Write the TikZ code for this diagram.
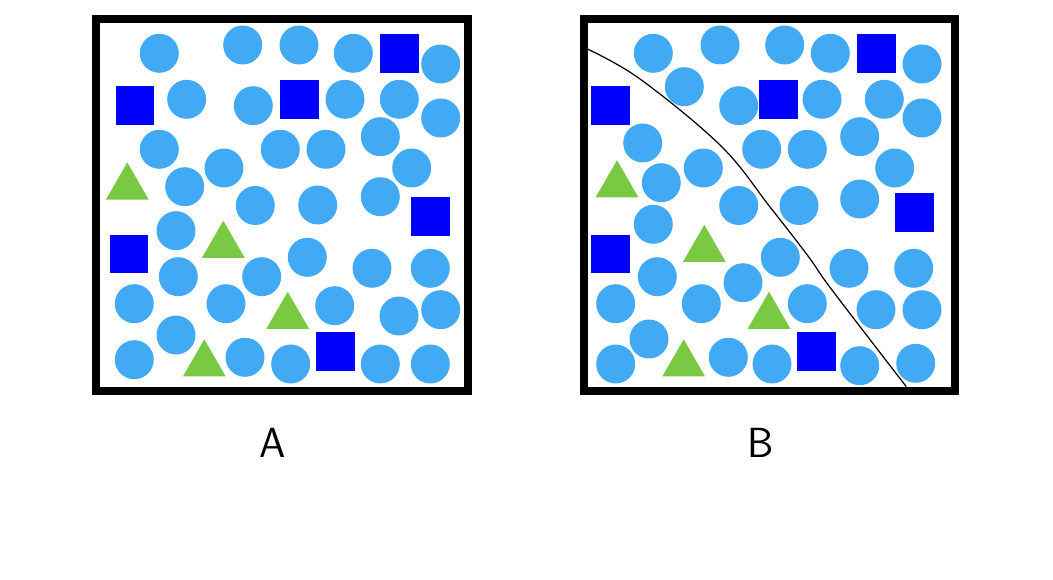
\documentclass[tikz,border=0pt]{standalone}
\usepackage{tikz}
\usetikzlibrary{shapes.geometric}
\definecolor{dotblue}{RGB}{66,169,244}
\definecolor{sqblue}{RGB}{0,0,255}
\definecolor{trigreen}{RGB}{122,201,67}

\begin{document}
\begin{tikzpicture}[x=0.02cm,y=-0.02cm,
  dot/.style={circle,fill=dotblue,inner sep=0pt,minimum size=0.78cm},
  sq/.style={rectangle,fill=sqblue,inner sep=0pt,minimum size=0.78cm},
  tri/.style={regular polygon,regular polygon sides=3,fill=trigreen,
              inner sep=0pt,minimum size=0.99cm},
  frame/.style={line width=0.16cm,line join=miter},
  lbl/.style={font=\sffamily\fontsize{24}{29}\selectfont}]

\useasboundingbox (0,0) rectangle (1053,580);

%% ---------------- panel A: the mixture ----------------
\begin{scope}
  \foreach \x/\y [count=\i] in {159.3/53.3, 242.7/45, 299/45, 353.3/53.3,
      440.7/64, 186.7/99.3, 253.3/105.7, 345/99.3, 399.3/99.3, 440.7/118,
      159.3/149.3, 280.3/149.3, 326/149.3, 380.3/136.7, 224/168,
      184.7/186.7, 411.7/168, 255.3/205.5, 317.7/205, 380.3/196.7,
      176/230.7, 178.3/276.7, 261.7/276.7, 307.3/257.3, 372/268.3,
      430.3/268.3, 134.3/303.7, 226/303.7, 334.7/305.7, 399/316,
      440.7/309.7, 176/335, 134.3/359.7, 245/357.3, 290.7/364,
      380.3/364, 430.3/364}
    \node[dot] (ca\i) at (\x,\y) {};
  \foreach \x/\y [count=\i] in {399.3/53.7, 135/106, 299.3/100,
      430.7/216.5, 129/254, 335/351.7}
    \node[sq] (sa\i) at (\x,\y) {};
  \foreach \x/\y [count=\i] in {127.3/187.2, 223.3/245.5, 287.7/316.5,
      204.3/364.1}
    \node[tri] (ta\i) at (\x,\y) {};
  \draw[frame] (96,19) rectangle (467.5,390.5);
  \node[lbl] (labA) at (273,443) {A};
\end{scope}

%% ---------------- panel B: same mixture, split by a boundary ----------------
\begin{scope}
  \foreach \x/\y [count=\i] in {653.3/53.3, 720/45, 784.7/45, 830.3/53.3,
      922/64, 684.3/86.7, 738.7/105.7, 822/99.3, 884.3/99.3, 922/118,
      642.7/143, 761.7/149.3, 807.3/149.3, 859.7/136.7, 661.3/182.7,
      703.3/168, 894.7/168, 738.7/205.5, 799/205.5, 859.7/199,
      653.3/224.3, 657.3/276.7, 743/282.7, 780.3/257.3, 849/268.3,
      913.7/268.3, 615.7/303.7, 701.3/303.7, 807.3/303.7, 876/309.7,
      922/309.7, 649/339, 615.7/364, 728.3/357.3, 772/364,
      859.7/365.7, 915.7/363.3}
    \node[dot] (cb\i) at (\x,\y) {};
  \foreach \x/\y [count=\i] in {876.3/53.7, 610/106, 778.7/100,
      914/212.5, 610/254, 816.3/351.7}
    \node[sq] (sb\i) at (\x,\y) {};
  \foreach \x/\y [count=\i] in {617/185, 704.3/249.5, 769/316.5,
      683.7/364.1}
    \node[tri] (tb\i) at (\x,\y) {};
  %% the dividing curve
  \draw[line width=0.7pt] plot[smooth,tension=0.6] coordinates {
      (587.3,49) (640,79) (721,146) (770,207) (808,256)
      (832,290) (906.3,386.7)};
  \draw[frame] (583.5,19) rectangle (955,390.5);
  \node[lbl] (labB) at (761,443) {B};
\end{scope}

\end{tikzpicture}
\end{document}
